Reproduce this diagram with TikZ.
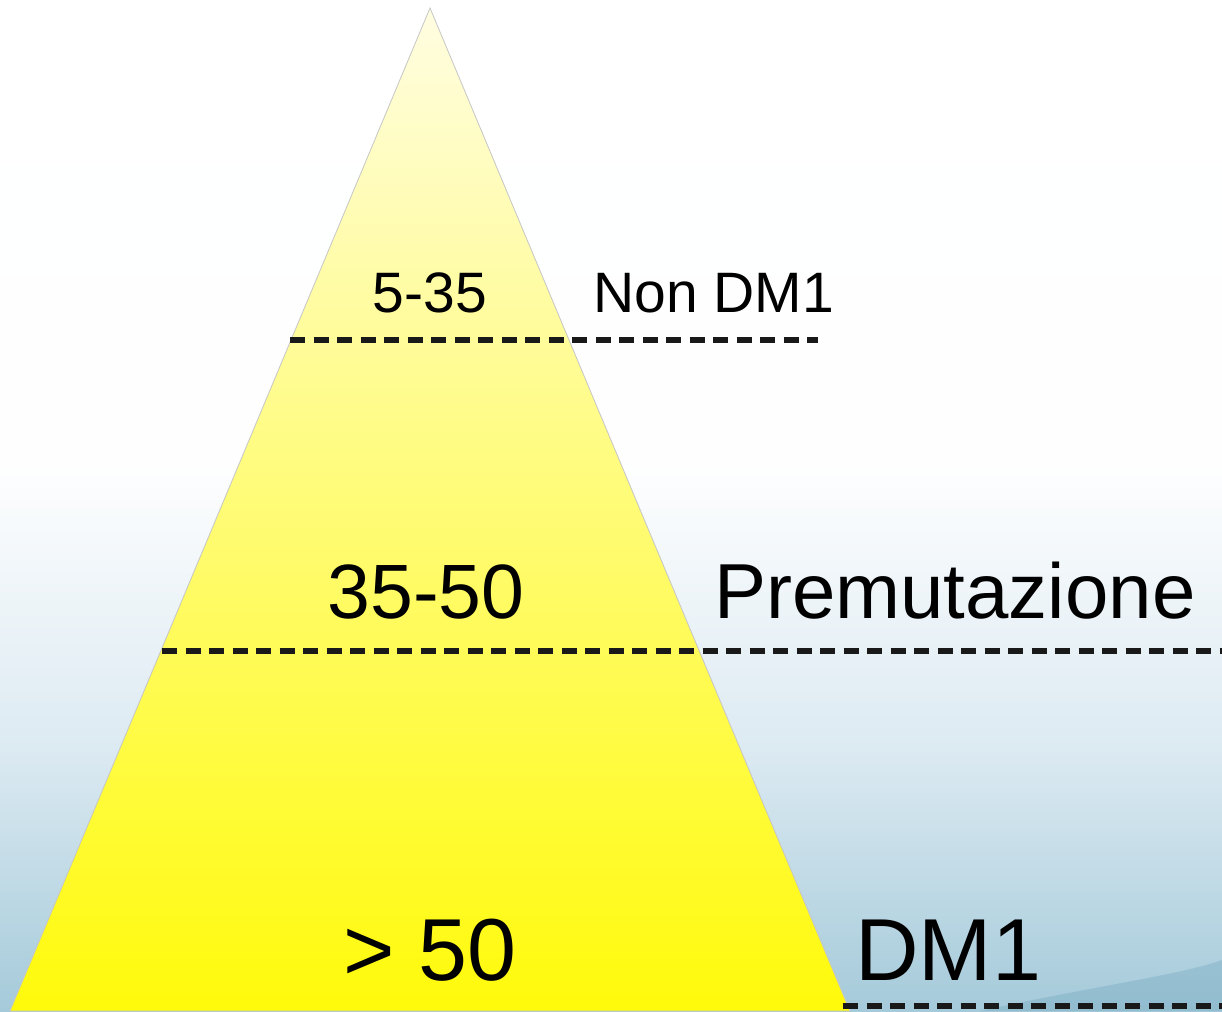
\documentclass[tikz,border=0pt]{standalone}
\usepackage{fontspec}
\setmainfont{Liberation Sans}
\definecolor{skylow}{RGB}{165,202,218}
\definecolor{skymid}{RGB}{220,234,242}
\definecolor{skydeep}{RGB}{110,165,188}
\definecolor{pyrtop}{RGB}{255,253,225}
\definecolor{pyrlow}{RGB}{255,250,10}
\pgfdeclareverticalshading{sky}{100bp}{color(0bp)=(skylow); color(25bp)=(skylow);
  color(38bp)=(skymid); color(52bp)=(white!96!skymid); color(75bp)=(white); color(100bp)=(white)}
\tikzset{
  splitline/.style={line width=6pt, dash pattern=on 15pt off 8.5pt, black!90},
  lbl/.style={inner sep=0pt, anchor=base, text=black},
  tag/.style={inner sep=0pt, anchor=base west, text=black}
}
\begin{document}
\begin{tikzpicture}[x=1pt, y=-1pt]
  \useasboundingbox (0,0) rectangle (1222,1011);
  \shade[shading=sky] (0,0) rectangle (1222,1011);
  \fill[skydeep, opacity=0.35] (980,1011) .. controls (1100,985) and (1180,975) .. (1222,960) -- (1222,1011) -- cycle;
  % pyramid
  \coordinate (apex) at (430,8);
  \coordinate (baseL) at (10,1011);
  \coordinate (baseR) at (850,1011);
  \shade[top color=pyrtop, bottom color=pyrlow, draw=gray!45, line width=0.8pt]
    (apex) -- (baseR) -- (baseL) -- cycle;
  % labels
  \node[lbl, font=\fontsize{57}{60}\selectfont] (r1) at (430,312) {5-35};
  \node[tag, font=\fontsize{57}{60}\selectfont] (c1) at (593,312) {Non DM1};
  \node[lbl, font=\fontsize{77}{80}\selectfont] (r2) at (426,618) {35-50};
  \node[tag, font=\fontsize{78}{82}\selectfont] (c2) at (714,618) {Premutazione};
  \node[lbl, font=\fontsize{88}{92}\selectfont] (r3) at (430,980) {> 50};
  \node[tag, font=\fontsize{88}{92}\selectfont] (c3) at (855,980) {DM1};
  % thresholds
  \coordinate (a1) at (290,340);
  \coordinate (a2) at (818,340);
  \coordinate (b1) at (162,651);
  \coordinate (b2) at (1222,651);
  \coordinate (d1) at (843,1006);
  \coordinate (d2) at (1222,1006);
  \begin{scope}[splitline]
    \draw (a1) to (a2);
    \draw (b1) to (b2);
    \draw (d1) to (d2);
  \end{scope}
\end{tikzpicture}
\end{document}
